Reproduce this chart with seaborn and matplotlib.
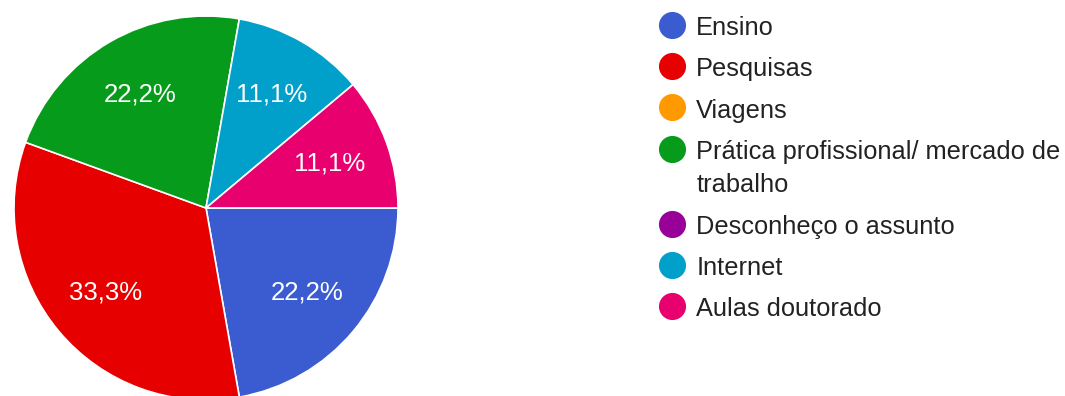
import matplotlib
matplotlib.use("Agg")
import matplotlib.pyplot as plt
from matplotlib.lines import Line2D
import seaborn as sns

# Survey answers: number of respondents per option
categories = [
    "Ensino",
    "Pesquisas",
    "Viagens",
    "Prática profissional/ mercado de\ntrabalho",
    "Desconheço o assunto",
    "Internet",
    "Aulas doutorado",
]
counts = [2, 3, 0, 2, 0, 1, 1]
colors = ["#3b5cd0", "#e60000", "#ff9900", "#079b1b", "#990099", "#00a0ca", "#e8006f"]

sns.set_theme(style="white")
plt.rcParams["font.family"] = ["Liberation Sans", "DejaVu Sans"]

W, H = 1065, 396
fig = plt.figure(figsize=(W / 100, H / 100), dpi=100)
fig.patch.set_facecolor("white")

# Pie axes: centre (206, 208) px, radius 192 px
cx, cy, r = 206, 208, 192
ax = fig.add_axes([(cx - r) / W, (H - cy - r) / H, 2 * r / W, 2 * r / H])

# Only non-empty answers get a wedge
vals = [v for v in counts if v > 0]
cols = [c for v, c in zip(counts, colors) if v > 0]


def pct_label(p):
    return f"{p:.1f}%".replace(".", ",")


wedges, _, autotexts = ax.pie(
    vals,
    colors=cols,
    startangle=0,
    counterclock=False,
    radius=1.0,
    autopct=pct_label,
    pctdistance=0.685,
    wedgeprops=dict(edgecolor="white", linewidth=1.2),
    textprops=dict(color="white", fontsize=18.5),
)
ax.set_xlim(-1, 1)
ax.set_ylim(-1, 1)
ax.set_aspect("equal")
ax.axis("off")

# Legend lists every option, including those nobody chose
handles = [
    Line2D([], [], marker="o", linestyle="", markersize=18.5,
           markerfacecolor=c, markeredgecolor=c)
    for c in colors
]
leg = fig.legend(
    handles,
    categories,
    loc="upper left",
    bbox_to_anchor=(659 / W, 1 - 16 / H),
    frameon=False,
    fontsize=18.3,
    handlelength=1.0,
    handletextpad=0.47,
    labelspacing=0.68,
    borderpad=0,
    borderaxespad=0,
)
# keep each marker level with the first line of its label
for col in leg._legend_handle_box.get_children():
    for row in col.get_children():
        row.align = "top"
for t in leg.get_texts():
    t.set_color("#222222")
    t.set_linespacing(1.5)

fig.savefig("out.png", dpi=100, facecolor="white")
